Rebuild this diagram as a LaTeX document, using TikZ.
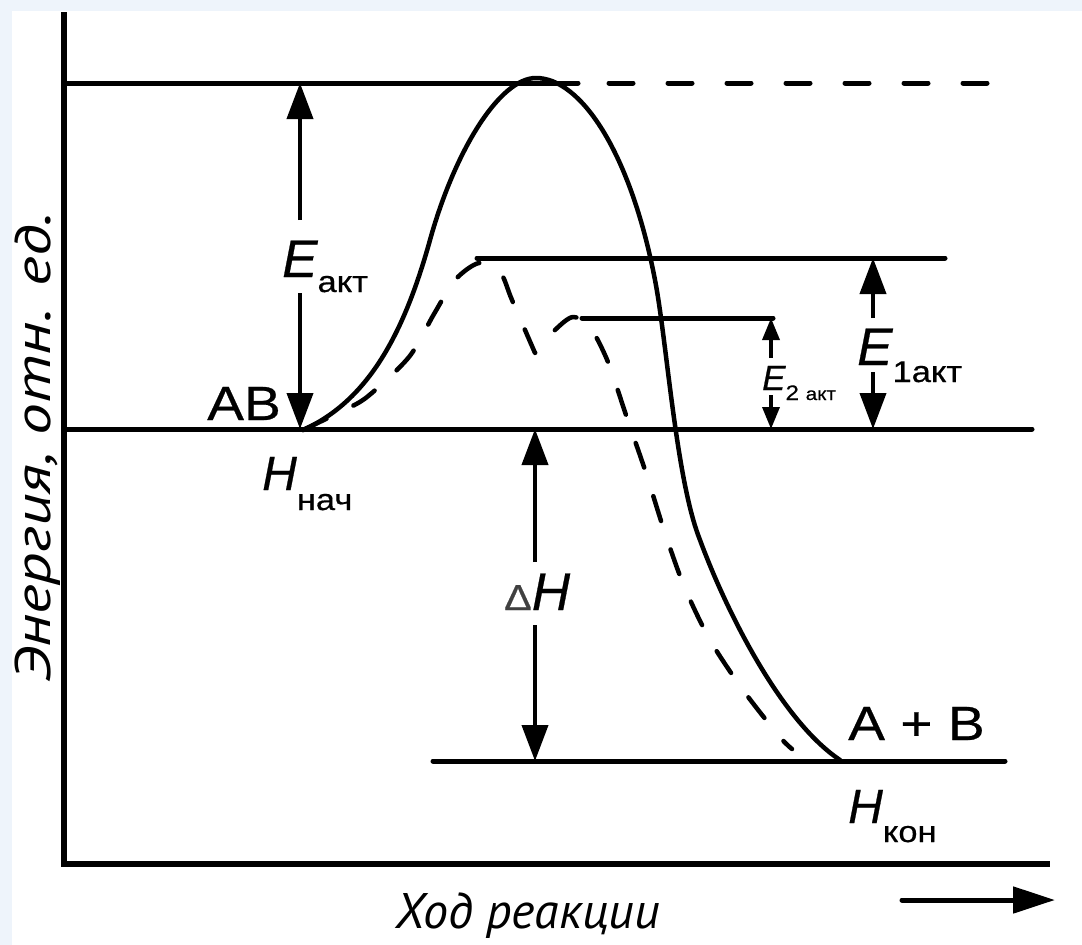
\documentclass[tikz,border=0pt]{standalone}
\usepackage{fontspec}
\setmainfont{Liberation Sans}
\newfontfamily\lblfont[FakeStretch=1.15,FakeBold=0.5]{Liberation Sans}
\newfontfamily\itfont[FakeBold=0.5]{Liberation Sans}
\newfontfamily\axfont{PT Sans}
\newfontfamily\axwidefont[FakeStretch=1.27]{PT Sans}
\usetikzlibrary{arrows.meta}
\definecolor{slideblue}{RGB}{238,244,251}
\definecolor{stripblue}{RGB}{204,225,246}
\newcommand\withsub[3][17pt]{{\itfont\itshape #2}\raisebox{-#1}{\fontsize{30}{30}\selectfont #3}}
\tikzset{
  axisline/.style={line width=6pt},
  level/.style={line width=5pt,line cap=round},
  curve/.style={line width=4.5pt,line join=round,line cap=round},
  dimarrow/.style={line width=4pt,-{Triangle[length=36pt,width=26pt]}},
  smallarrow/.style={line width=3.5pt,-{Triangle[length=22pt,width=17pt]}},
  axarrow/.style={line width=5pt,line cap=round,-{Triangle[length=42pt,width=26pt]}},
  lbl/.style={inner sep=0pt,anchor=base west,font=\lblfont\fontsize{48}{48}\selectfont},
  elbl/.style={lbl,font=\lblfont\fontsize{53}{53}\selectfont},
  axlbl/.style={inner sep=0pt,anchor=base west,font=\axfont\itshape\fontsize{50}{50}\selectfont},
}
\begin{document}
\begin{tikzpicture}[x=1pt,y=-1pt]
\useasboundingbox (0,0) rectangle (1082,945);
\fill[slideblue] (0,0) rectangle (1082,945);
\shade[top color=slideblue,middle color=stripblue,bottom color=slideblue] (0,0) rectangle (12,945);
\fill[white] (12,11) rectangle (1082,945);

% axes
\coordinate (ytop) at (64,12);
\coordinate (origin) at (64,864);
\coordinate (xend) at (1050,864);
\draw[axisline] (ytop) -- (origin) -- (xend);

% energy levels
\coordinate (topstart) at (64,83);
\coordinate (toppeak) at (578,83);
\coordinate (dashstart) at (609,83);
\coordinate (dashend) at (989,83);
\coordinate (abstart) at (64,429);
\coordinate (abend) at (1032,429);
\coordinate (firststart) at (477,258);
\coordinate (firstend) at (945,258);
\coordinate (secondstart) at (582,318);
\coordinate (secondend) at (773,318);
\coordinate (endstart) at (433,761);
\coordinate (endend) at (1005,761);
\draw[level] (topstart) -- (toppeak);
\draw[level,dash pattern=on 24pt off 35pt] (dashstart) -- (dashend);
\draw[level] (abstart) -- (abend);
\draw[level] (firststart) -- (firstend);
\draw[level] (secondstart) -- (secondend);
\draw[level] (endstart) -- (endend);

% reaction paths
\draw[curve] (303,430) .. controls (370,400) and (405,330) .. (430,240)
  .. controls (455,150) and (500,78) .. (536,78)
  .. controls (580,78) and (630,150) .. (655,280)
  .. controls (667,342) and (676,480) .. (700,540)
  .. controls (725,608) and (780,720) .. (840,760);
\draw[curve,dash pattern=on 26pt off 30pt] plot[smooth,tension=0.5] coordinates {(303,430)
  (340,412) (367,397) (409,357) (434,314) (455,280) (479,263) (500,272) (512,300)
  (535,353)} -- plot[smooth,tension=0.5] coordinates {(535,353) (555,330) (573,317)
  (590,327) (608,362) (626,415) (646,473) (664,530) (684,586) (710,640) (743,690)
  (779,736) (792,749)};

% labels
\node[lbl] (ab) at (207,420) {AB};
\node[lbl] (apb) at (848,740) {A + B};
\node[lbl] (hstart) at (262,490) {\withsub[20pt]{H}{нач}};
\node[lbl] (hend) at (848,823) {\withsub[19pt]{H}{кон}};
\node[elbl] (eakt) at (282,277) {\withsub[15pt]{E}{акт}};
\node[elbl] (eone) at (857,365) {\withsub{E}{1акт}};
\node[lbl,font=\lblfont\fontsize{35}{35}\selectfont] (etwo) at (762,390)
  {{\itfont\itshape E}\raisebox{-10pt}{\fontsize{21}{21}\selectfont 2 \fontsize{18}{18}\selectfont акт}};
\node[elbl] (dh) at (504,610) {{\fontsize{36}{36}\selectfont\color{black!75}Δ}{\itfont\itshape H}};
\node[axlbl] (xlab) at (395,928) {Ход реакции};
\node[axlbl,font=\axwidefont\itshape\fontsize{50}{50}\selectfont,rotate=90] (ylab) at (50,683) {Энергия, отн. ед.};

% dimension arrows
\coordinate (eaktup) at (300,220);
\coordinate (eaktdown) at (300,293);
\coordinate (eoneup) at (873,318);
\coordinate (eonedown) at (873,372);
\coordinate (etwoup) at (771,358);
\coordinate (etwodown) at (771,395);
\coordinate (dhup) at (535,562);
\coordinate (dhdown) at (535,625);
\draw[dimarrow] (eaktup) -- (eaktup |- topstart);
\draw[dimarrow] (eaktdown) -- (eaktdown |- abstart);
\draw[dimarrow] (eoneup) -- (eoneup |- firststart);
\draw[dimarrow] (eonedown) -- (eonedown |- abstart);
\draw[smallarrow] (etwoup) -- (etwoup |- secondstart);
\draw[smallarrow] (etwodown) -- (etwodown |- abstart);
\draw[dimarrow] (dhup) -- (dhup |- abstart);
\draw[dimarrow] (dhdown) -- (dhdown |- endstart);

% direction of reaction
\coordinate (dirstart) at (902,900);
\coordinate (dirend) at (1055,900);
\draw[axarrow] (dirstart) -- (dirend);
\end{tikzpicture}
\end{document}
